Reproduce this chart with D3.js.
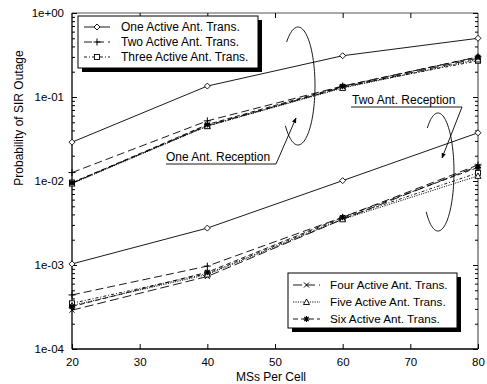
<!DOCTYPE html>
<html><head><meta charset="utf-8">
<script src="https://cdn.jsdelivr.net/npm/d3@7"></script>
<style>body{margin:0;background:#fff}svg{display:block}text{font-family:"Liberation Sans",Arial,sans-serif;fill:#000}</style>
</head><body>
<svg id="c" width="487" height="384"></svg>
<script>
const xs = [20, 40, 60, 80];
const xTicks = [20, 30, 40, 50, 60, 70, 80];
const yTicks = [1e-4, 1e-3, 1e-2, 1e-1, 1];
const yTickLabels = ["1e-04", "1e-03", "1e-02", "1e-01", "1e+00"];
const seriesNames = ["One Active Ant. Trans.", "Two Active Ant. Trans.", "Three Active Ant. Trans.",
                     "Four Active Ant. Trans.", "Five Active Ant. Trans.", "Six Active Ant. Trans."];
// One antenna reception (upper group)
const oneRxOne   = [0.029, 0.135, 0.31, 0.50];
const oneRxTwo   = [0.0126, 0.052, 0.135, 0.30];
const oneRxThree = [0.0096, 0.045, 0.132, 0.27];
const oneRxFour  = [0.0094, 0.046, 0.130, 0.29];
const oneRxFive  = [0.0093, 0.045, 0.128, 0.28];
const oneRxSix   = [0.0095, 0.047, 0.134, 0.30];
// Two antenna reception (lower group)
const twoRxOne   = [0.00103, 0.00275, 0.0101, 0.0375];
const twoRxTwo   = [0.00044, 0.00097, 0.0037, 0.0155];
const twoRxThree = [0.00035, 0.00079, 0.0036, 0.0125];
const twoRxFour  = [0.00029, 0.00073, 0.0035, 0.0150];
const twoRxFive  = [0.00033, 0.00077, 0.0035, 0.0115];
const twoRxSix   = [0.00032, 0.00082, 0.0037, 0.0145];

const svg = d3.select("#c");
const L = 72, R = 478, T = 13, B = 349;
const x = d3.scaleLinear().domain([20, 80]).range([L, R]);
const y = d3.scaleLog().domain([1e-4, 1]).range([B, T]);

const styles = [
  {dash: null, marker: "diamond"},
  {dash: "8,4", marker: "plus"},
  {dash: "3,2,1,2", marker: "square"},
  {dash: "9,4", marker: "cross"},
  {dash: "1.2,1.2", marker: "triangle"},
  {dash: "5,3", marker: "star"}
];

function drawMarker(g, type, cx, cy) {
  const s = 3;
  if (type === "diamond") {
    g.append("path").attr("d", `M${cx},${cy-s}L${cx+s},${cy}L${cx},${cy+s}L${cx-s},${cy}Z`)
      .attr("fill", "#fff").attr("stroke", "#000").attr("stroke-width", 0.9);
  } else if (type === "plus") {
    g.append("path").attr("d", `M${cx-s-0.5},${cy}H${cx+s+0.5}M${cx},${cy-s-0.5}V${cy+s+0.5}`)
      .attr("stroke", "#000").attr("stroke-width", 1);
  } else if (type === "square") {
    g.append("rect").attr("x", cx-s+0.5).attr("y", cy-s+0.5).attr("width", 2*s-1).attr("height", 2*s-1)
      .attr("fill", "#fff").attr("stroke", "#000").attr("stroke-width", 0.9);
  } else if (type === "cross") {
    g.append("path").attr("d", `M${cx-s+0.5},${cy-s+0.5}L${cx+s-0.5},${cy+s-0.5}M${cx-s+0.5},${cy+s-0.5}L${cx+s-0.5},${cy-s+0.5}`)
      .attr("stroke", "#000").attr("stroke-width", 1);
  } else if (type === "triangle") {
    g.append("path").attr("d", `M${cx},${cy-s}L${cx+s},${cy+s-0.5}L${cx-s},${cy+s-0.5}Z`)
      .attr("fill", "#fff").attr("stroke", "#000").attr("stroke-width", 0.9);
  } else if (type === "star") {
    g.append("path").attr("d", `M${cx-s},${cy}H${cx+s}M${cx},${cy-s}V${cy+s}M${cx-s+0.8},${cy-s+0.8}L${cx+s-0.8},${cy+s-0.8}M${cx-s+0.8},${cy+s-0.8}L${cx+s-0.8},${cy-s+0.8}`)
      .attr("stroke", "#000").attr("stroke-width", 1.2);
  }
}

// frame
svg.append("line").attr("x1", L).attr("x2", R).attr("y1", T).attr("y2", T).attr("stroke", "#555").attr("stroke-width", 1.2);
svg.append("line").attr("x1", R).attr("x2", R).attr("y1", T).attr("y2", B).attr("stroke", "#555").attr("stroke-width", 1.2);
svg.append("line").attr("x1", L).attr("x2", L).attr("y1", T).attr("y2", B).attr("stroke", "#000").attr("stroke-width", 1.3);
svg.append("line").attr("x1", L).attr("x2", R).attr("y1", B).attr("y2", B).attr("stroke", "#000").attr("stroke-width", 1.3);

// x axis
const xAxis = d3.axisBottom(x).tickValues(xTicks).tickSize(-5).tickPadding(9).tickFormat(d3.format("d"));
const gx = svg.append("g").attr("transform", `translate(0,${B})`).call(xAxis);
gx.select(".domain").remove();
gx.selectAll("text").attr("font-size", 11.5);
const gxTop = svg.append("g").attr("transform", `translate(0,${T})`).call(d3.axisTop(x).tickValues(xTicks.slice(1, -1)).tickSize(-5).tickFormat(""));
gxTop.select(".domain").remove();

// y axis
const minor = [];
for (let e = -4; e < 0; e++) for (let m = 2; m <= 9; m++) minor.push(m * Math.pow(10, e));
const yAxis = d3.axisLeft(y).tickValues(yTicks).tickSize(-5).tickPadding(8).tickFormat((d, i) => yTickLabels[i]);
const gy = svg.append("g").attr("transform", `translate(${L},0)`).call(yAxis);
gy.select(".domain").remove();
gy.selectAll("text").attr("font-size", 11.5);
const gyMin = svg.append("g").attr("transform", `translate(${L},0)`).call(d3.axisLeft(y).tickValues(minor).tickSize(-3).tickFormat(""));
gyMin.select(".domain").remove();
const gyR = svg.append("g").attr("transform", `translate(${R},0)`).call(d3.axisRight(y).tickValues(yTicks).tickSize(-5).tickFormat(""));
gyR.select(".domain").remove();
const gyRm = svg.append("g").attr("transform", `translate(${R},0)`).call(d3.axisRight(y).tickValues(minor).tickSize(-3).tickFormat(""));
gyRm.select(".domain").remove();

// series
const groups = [
  [oneRxOne, oneRxTwo, oneRxThree, oneRxFour, oneRxFive, oneRxSix],
  [twoRxOne, twoRxTwo, twoRxThree, twoRxFour, twoRxFive, twoRxSix]
];
const line = d3.line().x((d, i) => x(xs[i])).y(d => y(d));
const plot = svg.append("g");
groups.forEach(grp => {
  grp.forEach((vals, k) => {
    const p = plot.append("path").datum(vals).attr("d", line).attr("fill", "none")
      .attr("stroke", "#000").attr("stroke-width", 0.9);
    if (styles[k].dash) p.attr("stroke-dasharray", styles[k].dash);
  });
});
groups.forEach(grp => {
  grp.forEach((vals, k) => {
    vals.forEach((v, i) => drawMarker(plot, styles[k].marker, x(xs[i]), y(v)));
  });
});

// annotations
const ann = svg.append("g").attr("fill", "none").attr("stroke", "#000").attr("stroke-width", 0.9);
svg.append("defs").append("marker").attr("id", "ah").attr("viewBox", "0 0 10 10").attr("refX", 9).attr("refY", 5)
  .attr("markerWidth", 6).attr("markerHeight", 6).attr("orient", "auto-start-reverse")
  .append("path").attr("d", "M0,1L10,5L0,9Z").attr("fill", "#000");

function loop(cx, cy, rx, ry, a0, a1) {
  const pts = d3.range(a0, a1 + 0.001, 0.05).map(a => [cx + rx * Math.cos(a), cy + ry * Math.sin(a)]);
  ann.append("path").attr("d", d3.line()(pts));
}
loop(298, 86, 17, 59, -2.3, 2.4);
loop(438, 172, 16, 59, -2.3, 2.4);

svg.append("text").attr("x", 166).attr("y", 161).attr("font-size", 12).text("One Ant. Reception");
ann.append("path").attr("d", "M166,164H276L296,118").attr("marker-end", "url(#ah)");
svg.append("text").attr("x", 352).attr("y", 104).attr("font-size", 12).text("Two Ant. Reception");
ann.append("path").attr("d", "M351,107H462L442,158").attr("marker-end", "url(#ah)");

// axis titles
svg.append("text").attr("x", 271).attr("y", 381).attr("text-anchor", "middle").attr("font-size", 12).text("MSs Per Cell");
svg.append("text").attr("transform", "translate(23,118) rotate(-90)").attr("text-anchor", "middle").attr("font-size", 12).text("Probability of SIR Outage");

// legends
function legend(bx, by, bw, bh, idx, rowY, lx0, lx1, tx, fs) {
  const g = svg.append("g");
  g.append("rect").attr("x", bx + 4).attr("y", by + 4).attr("width", bw).attr("height", bh).attr("fill", "#000");
  g.append("rect").attr("x", bx).attr("y", by).attr("width", bw).attr("height", bh).attr("fill", "#fff").attr("stroke", "#000").attr("stroke-width", 1);
  idx.forEach((k, j) => {
    const yy = rowY[j];
    const l = g.append("line").attr("x1", lx0).attr("x2", lx1).attr("y1", yy).attr("y2", yy).attr("stroke", "#000").attr("stroke-width", 0.9);
    if (styles[k].dash) l.attr("stroke-dasharray", styles[k].dash);
    drawMarker(g, styles[k].marker, (lx0 + lx1) / 2, yy);
    g.append("text").attr("x", tx).attr("y", yy + 4).attr("font-size", fs).text(seriesNames[k]);
  });
}
legend(78, 16, 180, 52, [0, 1, 2], [27, 42, 57], 84, 110, 121, 12);
legend(288, 273, 169, 55, [3, 4, 5], [285, 302, 319], 293, 320, 330, 11.7);
</script>
</body></html>
